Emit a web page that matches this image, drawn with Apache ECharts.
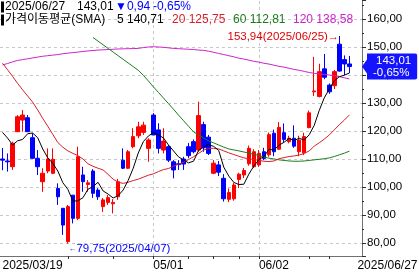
<!DOCTYPE html>
<html><head><meta charset="utf-8">
<script src="https://cdn.jsdelivr.net/npm/echarts@6/dist/echarts.min.js"></script>
<style>html,body{margin:0;padding:0;background:#fff}#c{width:419px;height:280px}</style>
</head><body><div id="c"></div>
<script>
const dates = ['2025/03/19','2025/03/20','2025/03/21','2025/03/24','2025/03/25','2025/03/26','2025/03/27','2025/03/28','2025/03/31',
'2025/04/01','2025/04/02','2025/04/03','2025/04/04','2025/04/07','2025/04/08','2025/04/09','2025/04/10','2025/04/11','2025/04/14','2025/04/15','2025/04/16','2025/04/17','2025/04/21','2025/04/22','2025/04/23','2025/04/24','2025/04/25','2025/04/28','2025/04/29','2025/04/30',
'2025/05/01','2025/05/02','2025/05/05','2025/05/06','2025/05/07','2025/05/08','2025/05/09','2025/05/12','2025/05/13','2025/05/14','2025/05/15','2025/05/16','2025/05/19','2025/05/20','2025/05/21','2025/05/22','2025/05/23','2025/05/27','2025/05/28','2025/05/29','2025/05/30',
'2025/06/02','2025/06/03','2025/06/04','2025/06/05','2025/06/06','2025/06/09','2025/06/10','2025/06/11','2025/06/12','2025/06/13','2025/06/16','2025/06/17','2025/06/18','2025/06/20','2025/06/23','2025/06/24','2025/06/25','2025/06/26','2025/06/27'];
const opens = [110.0,109.3,107.25,119.75,123.9,124.75,117.6,110.25,101.9,105.7,104.9,99.5,92.4,80.5,97.1,88.8,104.3,100.9,105.7,98.9,93.0,94.5,94.0,96.5,109.6,106.7,114.4,118.3,119.5,113.8,125.7,120.4,113.2,114.4,109.0,108.3,110.0,114.4,116.2,113.2,122.3,117.8,104.9,107.9,103.1,95.6,95.8,102.7,104.3,108.3,107.25,107.9,112.6,111.5,119.2,113.5,119.4,116.2,117.4,112.6,112.2,121.2,134.0,132.3,142.2,136.4,136.2,151.0,145.5,143.95];
const closes = [109.6,109.0,115.6,125.1,125.7,119.75,110.25,107.25,104.9,110.0,109.9,96.5,86.4,93.0,88.8,110.8,101.9,101.5,97.75,96.5,95.4,96.2,94.5,101.9,106.7,112.6,118.0,121.5,122.1,116.8,118.6,113.8,116.4,109.6,106.1,108.0,108.2,111.2,112.6,125.5,114.0,112.0,108.5,105.3,95.8,98.0,100.7,104.6,105.9,113.8,112.6,112.0,110.2,118.7,112.6,121.3,117.0,117.4,114.6,116.8,118.0,126.5,134.3,141.2,139.2,134.0,141.2,141.4,143.95,143.01];
const lows = [106.0,105.5,106.1,119.7,119.75,119.75,110.2,104.3,98.3,104.9,104.6,93.6,82.9,79.75,87.0,88.2,98.3,98.3,96.1,95.4,91.1,93.6,90.6,95.4,106.4,106.4,113.8,117.4,118.6,109.0,118.6,112.0,112.0,108.9,103.1,106.1,106.1,110.3,112.0,112.6,112.6,111.4,104.6,103.9,94.8,94.6,95.1,99.6,103.2,107.6,106.8,107.2,109.6,110.8,111.0,113.2,116.0,115.6,114.0,111.0,111.4,121.0,132.5,132.0,138.5,133.3,135.0,141.2,140.0,140.7];
const highs = [113.9,112.0,116.2,125.7,127.5,125.7,119.2,113.2,106.7,113.8,113.8,101.3,92.5,93.6,97.1,114.4,107.25,102.5,106.4,99.6,96.1,97.1,95.7,102.9,113.8,113.2,121.0,123.3,123.3,117.4,126.4,122.75,121.0,115.0,109.6,109.6,110.8,115.7,117.0,130.5,123.3,118.6,109.6,109.3,104.6,99.5,101.5,105.1,106.8,114.8,113.5,113.2,114.0,119.5,120.5,123.2,122.7,118.3,122.0,118.3,119.4,127.3,146.5,144.0,147.5,137.0,141.8,153.94,147.0,146.8];
const sma5 = [119.5,117.5,115.0,116.5,117.0,119.03,119.28,117.61,113.57,110.43,108.46,105.71,101.54,99.16,94.92,95.1,96.18,99.2,100.15,101.69,98.61,97.47,96.07,96.9,98.94,102.38,106.74,112.14,116.18,118.2,119.4,118.56,117.54,115.04,112.9,110.78,109.66,108.62,109.22,113.1,114.3,115.06,114.52,113.06,107.12,103.92,101.66,100.88,101.0,104.6,107.52,109.78,110.9,113.46,113.22,114.96,115.96,117.4,116.58,117.42,116.76,118.66,122.04,127.36,131.84,135.04,137.98,139.4,139.95,140.71];
const sma20 = [144.2,141.9,139.5,137.0,134.7,132.5,130.3,127.5,124.5,121.7,118.8,115.9,114.2,112.9,112.0,111.2,110.0,108.3,107.4,106.7,106.1,104.5,102.8,101.7,101.3,101.7,102.3,102.8,103.5,104.2,104.7,105.5,106.2,106.6,107.4,108.2,108.8,109.8,110.8,112.0,113.2,113.8,113.8,113.6,112.9,112.2,111.6,111.0,110.4,110.1,109.8,109.5,109.2,109.1,109.3,110.1,110.5,110.9,111.1,111.4,112.0,112.9,114.6,115.8,117.1,118.6,120.4,122.3,123.9,125.75];
const sma60 = [null,null,null,null,null,null,null,null,null,null,null,null,null,null,null,null,null,null,153.4,152.1,150.8,149.5,148.2,146.9,145.6,144.3,143.0,141.7,139.9,137.9,135.8,133.8,131.8,129.8,127.8,125.7,123.7,121.7,119.7,118.6,117.5,116.5,115.75,115.0,114.25,113.6,113.25,112.9,112.5,112.1,111.7,111.2,110.7,110.3,110.0,109.7,109.5,109.3,109.2,109.2,109.3,109.5,109.7,109.9,110.1,110.4,110.9,111.5,112.1,112.81];
const sma120 = [143.6,144.1,144.7,145.2,145.5,145.8,146.1,146.4,146.7,146.9,147.1,147.3,147.6,147.8,148.0,148.2,148.4,148.6,148.75,148.9,149.0,149.1,149.2,149.3,149.35,149.4,149.45,149.5,149.8,150.0,150.1,150.0,149.9,149.7,149.5,149.4,149.3,149.2,149.1,148.9,148.8,148.5,148.1,147.7,147.3,146.9,146.5,146.0,145.7,145.3,144.9,144.6,144.2,143.9,143.5,143.1,142.8,142.4,142.0,141.7,141.3,140.9,140.6,140.4,140.2,140.0,139.7,139.4,139.0,138.58];
const xLabelDates = ['2025/03/19','2025/05/01','2025/06/02','2025/06/27'];
const xLabels = ['2025/03/19','05/01','06/02','2025/06/27'];
const xTickDates = ['2025/04/07','2025/04/21','2025/05/01','2025/05/12','2025/05/19','2025/05/27','2025/06/02','2025/06/16','2025/06/23'];
const gridDates = ['2025/05/01','2025/06/02'];
const maNames = ['5','20','60','120'];

const F = '"Liberation Sans","Noto Sans CJK KR",sans-serif';
const fmt = v => v.toFixed(2).replace('.', ',');
const last = closes.length - 1;
const chg = closes[last] - closes[last - 1];
const pct = chg / closes[last - 1] * 100;
const cats = dates.concat([' ', '  ']);
const labelIdx = xLabelDates.map(d => dates.indexOf(d));
const tickIdx = xTickDates.map(d => dates.indexOf(d));
const iMax = highs.indexOf(Math.max(...highs));
const iMin = lows.indexOf(Math.min(...lows));
const C = {up:'#ff0000', down:'#0000ff', m5:'#000000', m20:'#d81e28', m60:'#1a7d1a', m120:'#cc22cc', tag:'#1414ff'};
const lastMA = [sma5, sma20, sma60, sma120].map(a => fmt(a[last]));

const chart = echarts.init(document.getElementById('c'), null, {renderer:'canvas'});
const ts = color => ({color:color, fontSize:12, fontWeight:'normal', fontFamily:F,
  rich:{bar:{width:3, height:11, backgroundColor:'#000'}, k:{color:color, fontSize:12, fontWeight:'normal', fontFamily:F, padding:[0,0,0,1]}}});
const T = (left, top, text, color) => ({left:left, top:top, padding:0, text:text, textStyle:ts(color)});
chart.setOption({
  animation:false,
  textStyle:{fontFamily:F},
  title:[
    T(1, 1, '{bar|}{k|' + dates[last] + '}', '#000'),
    T(77, 1, fmt(closes[last]), '#000'),
    T(115, 1, (chg < 0 ? '▼' : '▲') + fmt(Math.abs(chg)), '#0000ff'),
    T(153, 1, fmt(pct) + '%', '#0000ff'),
    T(1, 14, '{bar|}{k|가격이동평균(SMA)}', '#000'),
    T(117, 14, maNames[0] + ' ' + lastMA[0], '#000'),
    T(172, 14, maNames[1] + ' ' + lastMA[1], C.m20),
    T(233, 14, maNames[2] + ' ' + lastMA[2], C.m60),
    T(293, 14, maNames[3] + ' ' + lastMA[3], C.m120)
  ],
  grid:{left:0, right:57, top:0, bottom:24, containLabel:false, outerBoundsMode:'none'},
  xAxis:{
    type:'category', data:cats, boundaryGap:true,
    axisLine:{show:true, lineStyle:{color:'#707070'}},
    axisTick:{show:true, alignWithLabel:true, length:3, interval:i => tickIdx.includes(i), lineStyle:{color:'#303030'}},
    axisLabel:{
      interval:i => labelIdx.includes(i),
      formatter:(v, i) => { const k = labelIdx.indexOf(i); if (k < 0) return ''; return k === xLabels.length - 1 ? '{e|' + xLabels[k] + '}' : xLabels[k]; },
      align:'left', margin:4, color:'#000', fontSize:12, fontFamily:F,
      rich:{e:{padding:[0,0,0,8], fontSize:12, fontFamily:F, color:'#000'}}
    },
    splitLine:{show:false}
  },
  yAxis:{
    type:'value', position:'right', min:75.36, max:166.79, splitNumber:9, minInterval:10, maxInterval:10,
    axisLine:{show:true, lineStyle:{color:'#707070'}},
    axisTick:{show:true, length:4, lineStyle:{color:'#303030'}},
    minorTick:{show:true, splitNumber:2, length:2, lineStyle:{color:'#303030'}},
    axisLabel:{margin:5, color:'#000', fontSize:11.5, fontFamily:F, showMinLabel:false, showMaxLabel:false,
      formatter:v => Math.abs(v / 10 - Math.round(v / 10)) < 1e-6 ? fmt(v) : ''},
    splitLine:{show:true, showMinLine:false, showMaxLine:false, lineStyle:{color:'#c8c8c8', type:[3,3], width:1}}
  },
  series:[
    {
      type:'candlestick', name:'price', barWidth:4, clip:false,
      data:dates.map((d, i) => [opens[i], closes[i], lows[i], highs[i]]),
      itemStyle:{color:C.up, color0:C.down, borderColor:C.up, borderColor0:C.down, borderWidth:1},
      markPoint:{
        symbol:'circle', symbolSize:1, itemStyle:{color:'rgba(0,0,0,0)'}, animation:false,
        data:[
          {coord:[dates[iMax], highs[iMax]], label:{show:true, position:'left', distance:0, offset:[0,1],
            formatter:'{t|' + fmt(highs[iMax]) + '(' + dates[iMax] + ')}{a|→}',
            rich:{t:{color:'#e00000', fontSize:11.5, fontFamily:F}, a:{color:'#e00000', fontSize:11, fontFamily:F}}}},
          {coord:[dates[iMin], lows[iMin]], label:{show:true, position:'right', distance:0, offset:[0,5],
            formatter:'{a|←}{t|' + fmt(lows[iMin]) + '(' + dates[iMin] + ')}',
            rich:{t:{color:'#0000ff', fontSize:11.5, fontFamily:F}, a:{color:'#0000ff', fontSize:8, fontFamily:F}}}},
          {coord:[cats.length - 1, closes[last]], symbol:'path://M0,7L5,0L5,14Z', symbolSize:[5,14], symbolKeepAspect:false,
            symbolOffset:[5,0], itemStyle:{color:C.tag}, label:{show:false}}
        ]
      },
      markLine:{
        silent:true, animation:false, symbol:['none','none'], z:1,
        data:gridDates.map(d => ({xAxis:d, lineStyle:{color:'#c8c8c8', type:[3,3], width:1}, label:{show:false}})).concat([
          {yAxis:closes[last], lineStyle:{color:'rgba(0,0,0,0)', width:1},
           label:{show:true, position:'end', distance:5,
             formatter:'{p|' + fmt(closes[last]) + '}\n{q|' + fmt(pct) + '%}',
             backgroundColor:C.tag, padding:[1,6,1,6], borderRadius:[0,2,2,0],
             rich:{p:{color:'#fff', fontSize:11.5, fontFamily:F, lineHeight:12, padding:[0,0,0,3]},
                   q:{color:'#fff', fontSize:11.5, fontFamily:F, lineHeight:12}}}}
        ])
      }
    },
    {type:'line', name:'SMA120', data:sma120, showSymbol:false, symbol:'none', lineStyle:{color:C.m120, width:1}, itemStyle:{color:C.m120}},
    {type:'line', name:'SMA60', data:sma60, showSymbol:false, symbol:'none', lineStyle:{color:C.m60, width:1}, itemStyle:{color:C.m60}},
    {type:'line', name:'SMA20', data:sma20, showSymbol:false, symbol:'none', lineStyle:{color:C.m20, width:1}, itemStyle:{color:C.m20}},
    {type:'line', name:'SMA5', data:sma5, showSymbol:false, symbol:'none', lineStyle:{color:C.m5, width:1}, itemStyle:{color:C.m5}}
  ]
});
</script></body></html>
